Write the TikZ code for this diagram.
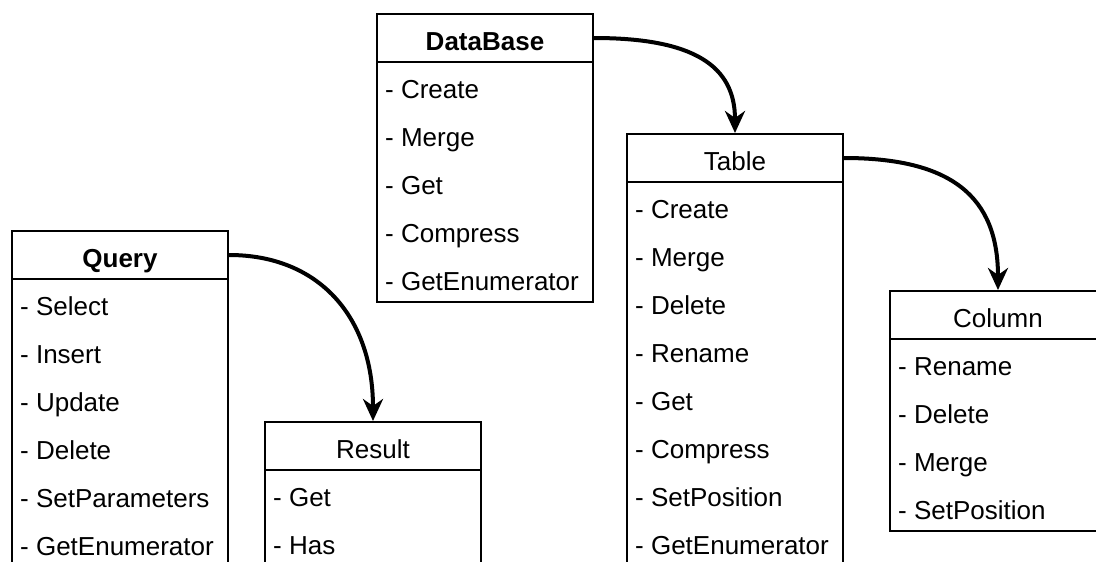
\documentclass[tikz,border=0pt]{standalone}
\usepackage{fontspec}
\setmainfont{Liberation Sans}
\usetikzlibrary{arrows.meta}
\begin{document}
\begin{tikzpicture}[x=1pt,y=-1pt,
  every node/.style={font=\fontsize{26}{31}\selectfont},
  hdr/.style={draw, line width=2pt, minimum width=216pt, minimum height=48pt,
    inner sep=0pt, outer sep=0pt, anchor=north west, text height=24pt, text depth=0pt},
  bodybox/.style={draw, line width=2pt, minimum width=216pt, inner sep=0pt, outer sep=0pt, anchor=north},
  item/.style={anchor=base west, inner sep=0pt},
  link/.style={line width=4pt, -{Stealth[length=22pt,width=20pt,inset=7pt]}}]
\useasboundingbox (0,0) rectangle (1096,562);
\clip (0,0) rectangle (1096,562);
% DataBase
\node[hdr] (dbh) at (377,14) {\textbf{DataBase}};
\node[bodybox, minimum height=240pt] (dbb) at (dbh.south) {};
\foreach \t [count=\i from 0] in {Create, Merge, Get, Compress, GetEnumerator}
  \node[item] (db-\i) at (385, 98+48*\i) {- \t};
% Table
\node[hdr] (tbh) at (627,134) {Table};
\node[bodybox, minimum height=384pt] (tbb) at (tbh.south) {};
\foreach \t [count=\i from 0] in {Create, Merge, Delete, Rename, Get, Compress, SetPosition, GetEnumerator}
  \node[item] (tb-\i) at (635, 218+48*\i) {- \t};
% Query
\node[hdr] (qh) at (12,231) {\textbf{Query}};
\node[bodybox, minimum height=288pt] (qb) at (qh.south) {};
\foreach \t [count=\i from 0] in {Select, Insert, Update, Delete, SetParameters, GetEnumerator}
  \node[item] (q-\i) at (20, 315+48*\i) {- \t};
% Result
\node[hdr] (rh) at (265,422) {Result};
\node[bodybox, minimum height=96pt] (rb) at (rh.south) {};
\foreach \t [count=\i from 0] in {Get, Has}
  \node[item] (r-\i) at (273, 506+48*\i) {- \t};
% Column
\node[hdr] (ch) at (890,291) {Column};
\node[bodybox, minimum height=192pt] (cb) at (ch.south) {};
\foreach \t [count=\i from 0] in {Rename, Delete, Merge, SetPosition}
  \node[item] (c-\i) at (898, 375+48*\i) {- \t};
% connectors
\draw[link] ([xshift=1pt]dbh.east) .. controls +(100,0) and +(0,-67) .. ([yshift=1pt]tbh.north);
\draw[link] ([xshift=1pt]qh.east) .. controls +(90,0) and +(0,-104) .. ([yshift=1pt]rh.north);
\draw[link] ([xshift=1pt]tbh.east) .. controls +(108,0) and +(0,-93) .. ([yshift=1pt]ch.north);
\end{tikzpicture}
\end{document}
